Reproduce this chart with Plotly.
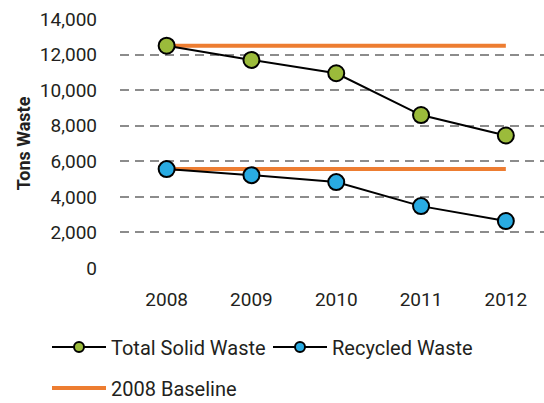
import plotly.graph_objects as go

years = ["2008", "2009", "2010", "2011", "2012"]
total_solid = [12500, 11700, 10950, 8600, 7450]
recycled = [5560, 5220, 4830, 3480, 2640]
baseline_total = [12500] * 5
baseline_recycled = [5560] * 5
y_ticks = [0, 2000, 4000, 6000, 8000, 10000, 12000, 14000]

font_family = "Roboto, 'DejaVu Sans', sans-serif"
text_color = "#231f20"
orange = "#ED7D31"
green = "#9BBB3B"
blue = "#29ABE2"

fig = go.Figure()

# Baselines at the 2008 levels
fig.add_trace(go.Scatter(
    x=years, y=baseline_total, mode="lines", name="2008 Baseline",
    line=dict(color=orange, width=4), legend="legend2", cliponaxis=False,
))
fig.add_trace(go.Scatter(
    x=years, y=baseline_recycled, mode="lines", name="2008 Baseline",
    line=dict(color=orange, width=4), showlegend=False, cliponaxis=False,
))

# Data series
fig.add_trace(go.Scatter(
    x=years, y=total_solid, mode="lines+markers", name="Total Solid Waste",
    line=dict(color="black", width=2),
    marker=dict(size=16, color=green, line=dict(color="black", width=2)),
    cliponaxis=False, showlegend=False,
))
fig.add_trace(go.Scatter(
    x=years, y=recycled, mode="lines+markers", name="Recycled Waste",
    line=dict(color="black", width=2),
    marker=dict(size=16, color=blue, line=dict(color="black", width=2)),
    cliponaxis=False, showlegend=False,
))

# Legend entries with smaller markers
for name, color, leg in [("Total Solid Waste", green, "legend"),
                         ("Recycled Waste", blue, "legend3")]:
    fig.add_trace(go.Scatter(
        x=[None], y=[None], mode="lines+markers", name=name,
        line=dict(color="black", width=2),
        marker=dict(size=10, color=color, line=dict(color="black", width=2)),
        legend=leg,
    ))

legend_common = dict(
    orientation="h", xref="container", yref="container",
    xanchor="left", yanchor="middle",
    font=dict(size=20, color=text_color), itemwidth=54,
    bgcolor="rgba(0,0,0,0)",
)

fig.update_layout(
    width=544, height=403,
    margin=dict(l=120, r=0, t=19, b=135),
    paper_bgcolor="white", plot_bgcolor="white",
    font=dict(family=font_family, size=19, color=text_color),
    legend=dict(x=47/544, y=1 - 347/403, **legend_common),
    legend3=dict(x=268/544, y=1 - 347/403, **legend_common),
    legend2=dict(x=47/544, y=1 - 388/403, **legend_common),
)

fig.update_xaxes(
    type="category", range=[-0.55, 4.45],
    showgrid=False, showline=False, zeroline=False,
    ticks="", ticklabelstandoff=18,
    tickfont=dict(size=19, color=text_color),
)
fig.update_yaxes(
    range=[0, 14000], tickvals=y_ticks, tickformat=",d",
    showgrid=True, gridcolor="#8c8c8c", gridwidth=2, griddash="9px,6px",
    zeroline=False, showline=False, ticks="", ticklabelstandoff=22,
    tickfont=dict(size=19, color=text_color),
    title=dict(text="<b>Tons Waste</b>", font=dict(size=18, color=text_color), standoff=4),
)

fig.write_html("out.html")
